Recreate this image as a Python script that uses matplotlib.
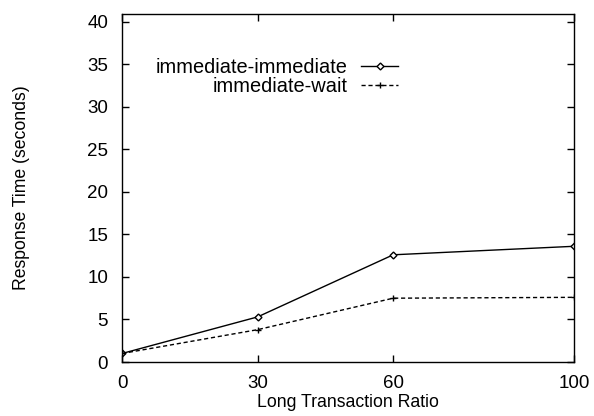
import matplotlib
matplotlib.use("Agg")
import matplotlib.pyplot as plt

x_vals = [0, 30, 60, 100]
imm_imm = [1.0, 5.3, 12.6, 13.6]
imm_wait = [1.0, 3.8, 7.5, 7.6]
x_ticks = [0, 30, 60, 100]
y_ticks = [0, 5, 10, 15, 20, 25, 30, 35, 40]

plt.rcParams['font.family'] = ['Liberation Sans', 'DejaVu Sans']
fig = plt.figure(figsize=(5.94, 4.16), dpi=100)
ax = fig.add_axes([0.2054, 0.1298, 0.7609, 0.8365])

ax.plot(x_vals, imm_imm, color='black', lw=1.0, marker='D', markersize=3.5,
        markerfacecolor='white', markeredgecolor='black', markeredgewidth=1.0,
        label='immediate-immediate')
ax.plot(x_vals, imm_wait, color='black', lw=1.0, ls=(0, (3, 2)), marker='+',
        markersize=5, markeredgewidth=1.0, label='immediate-wait')

ax.set_xlim(0, 100)
ax.set_ylim(0, 40.9)
ax.set_xticks(x_ticks)
ax.set_yticks(y_ticks)
ax.tick_params(direction='in', length=5, width=1, top=True, right=True,
               labelsize=13.5)
ax.tick_params(axis='x', pad=9)
ax.tick_params(axis='y', pad=10)
for s in ax.spines.values():
    s.set_linewidth(1.0)

ax.set_xlabel('Long Transaction Ratio', fontsize=12.7, labelpad=1.5)
ax.set_ylabel('Response Time (seconds)', fontsize=12.7, labelpad=41)

leg = ax.legend(loc='upper right', bbox_to_anchor=(0.611, 0.874), frameon=False,
                markerfirst=False, fontsize=14.4, handlelength=1.85,
                handletextpad=0.7, labelspacing=0.0, borderaxespad=0,
                borderpad=0)
leg._legend_box.align = "right"

fig.savefig('out.png', dpi=100)
